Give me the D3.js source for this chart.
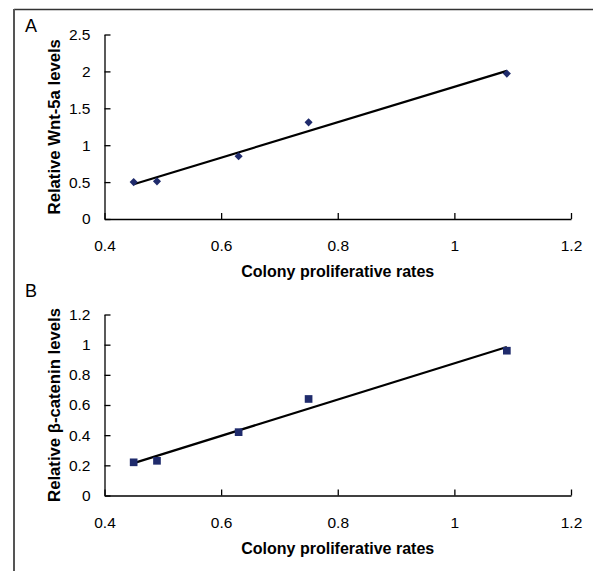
<!DOCTYPE html>
<html>
<head>
<meta charset="utf-8">
<script src="https://cdn.jsdelivr.net/npm/d3@7"></script>
<style>
  html, body { margin: 0; padding: 0; background: #fff; }
  svg { display: block; font-family: Arial, "Liberation Sans", sans-serif; }
</style>
</head>
<body>
<svg id="chart" width="593" height="571"></svg>
<script>
// ---- data ----
const rates = [0.45, 0.49, 0.63, 0.75, 1.09];
const wnt5a = [0.50, 0.51, 0.85, 1.31, 1.97];
const betaCatenin = [0.22, 0.23, 0.42, 0.64, 0.96];
const xTicks = [0.4, 0.6, 0.8, 1, 1.2];
const yTicksA = [0, 0.5, 1, 1.5, 2, 2.5];
const yTicksB = [0, 0.2, 0.4, 0.6, 0.8, 1, 1.2];
const xTitle = "Colony proliferative rates";
const yTitleA = "Relative Wnt-5a levels";
const yTitleB = "Relative β-catenin levels";

const svg = d3.select("#chart");
const markerColor = "#1f2b6c";
const FONT = "Arial, 'Liberation Sans', sans-serif";

// outer frame (top and left edges)
svg.append("line").attr("x1", 14).attr("y1", 9.5).attr("x2", 593).attr("y2", 9.5)
  .attr("stroke", "#333").attr("stroke-width", 1.5);
svg.append("line").attr("x1", 14).attr("y1", 9).attr("x2", 14).attr("y2", 571)
  .attr("stroke", "#555").attr("stroke-width", 2);

function fit(xs, ys) {
  const mx = d3.mean(xs), my = d3.mean(ys);
  let sxy = 0, sxx = 0;
  xs.forEach((x, i) => { sxy += (x - mx) * (ys[i] - my); sxx += (x - mx) * (x - mx); });
  const b = sxy / sxx;
  return { slope: b, intercept: my - b * mx };
}

function panel(opts) {
  const { top, bottom, yMax, yTicks, ys, yTitle, letter, letterY, shape } = opts;
  const left = 104.5, right = 571;
  const x = d3.scaleLinear().domain([0.4, 1.2]).range([left, right]);
  const y = d3.scaleLinear().domain([0, yMax]).range([bottom, top]);
  const g = svg.append("g");

  const xAxis = d3.axisBottom(x).tickValues(xTicks).tickSizeInner(-6).tickSizeOuter(0)
    .tickPadding(21).tickFormat(d3.format("~g"));
  const gx = g.append("g").attr("transform", `translate(0,${bottom})`).call(xAxis);
  gx.attr("font-size", null).attr("font-family", null);
  gx.select(".domain").attr("stroke", "#000").attr("stroke-width", 1.3);
  gx.selectAll(".tick line").attr("stroke", "#000").attr("stroke-width", 1.3);
  gx.selectAll("text").style("font-size", "15.5px").attr("fill", "#000")
    .style("font-family", FONT);

  const yAxis = d3.axisLeft(y).tickValues(yTicks).tickSizeInner(-6).tickSizeOuter(0)
    .tickPadding(14).tickFormat(d3.format("~g"));
  const gy = g.append("g").attr("transform", `translate(${left},0)`).call(yAxis);
  gy.attr("font-size", null).attr("font-family", null);
  gy.select(".domain").attr("stroke", "#000").attr("stroke-width", 1.3);
  gy.selectAll(".tick line").attr("stroke", "#000").attr("stroke-width", 1.3);
  gy.selectAll("text").style("font-size", "15.5px").attr("fill", "#000")
    .style("font-family", FONT);

  // trend line
  const f = fit(rates, ys);
  const x0 = d3.min(rates), x1 = d3.max(rates);
  g.append("line")
    .attr("x1", x(x0)).attr("y1", y(f.intercept + f.slope * x0))
    .attr("x2", x(x1)).attr("y2", y(f.intercept + f.slope * x1))
    .attr("stroke", "#000").attr("stroke-width", 2.2);

  // markers
  const sym = d3.symbol().type(shape === "diamond" ? d3.symbolDiamond2 : d3.symbolSquare2)
    .size(shape === "diamond" ? 42 : 75);
  g.selectAll("path.pt").data(rates).join("path")
    .attr("class", "pt")
    .attr("transform", (d, i) => `translate(${x(d)},${y(ys[i])})`)
    .attr("d", sym).attr("fill", markerColor).attr("stroke", "none");

  // titles
  g.append("text").attr("x", (left + right) / 2).attr("y", bottom + 58)
    .attr("text-anchor", "middle").style("font-size", "16px").attr("font-weight", "bold")
    .text(xTitle);
  g.append("text")
    .attr("transform", `translate(59.5,${(top + bottom) / 2}) rotate(-90)`)
    .attr("text-anchor", "middle").style("font-size", "16.7px").attr("font-weight", "bold")
    .text(yTitle);
  g.append("text").attr("x", 25).attr("y", letterY).style("font-size", "18px")
    .text(letter);
}

panel({ top: 34.5, bottom: 219, yMax: 2.5, yTicks: yTicksA, ys: wnt5a,
  yTitle: yTitleA, letter: "A", letterY: 32, shape: "diamond" });
panel({ top: 314.5, bottom: 495.5, yMax: 1.2, yTicks: yTicksB, ys: betaCatenin,
  yTitle: yTitleB, letter: "B", letterY: 297, shape: "square" });
</script>
</body>
</html>
